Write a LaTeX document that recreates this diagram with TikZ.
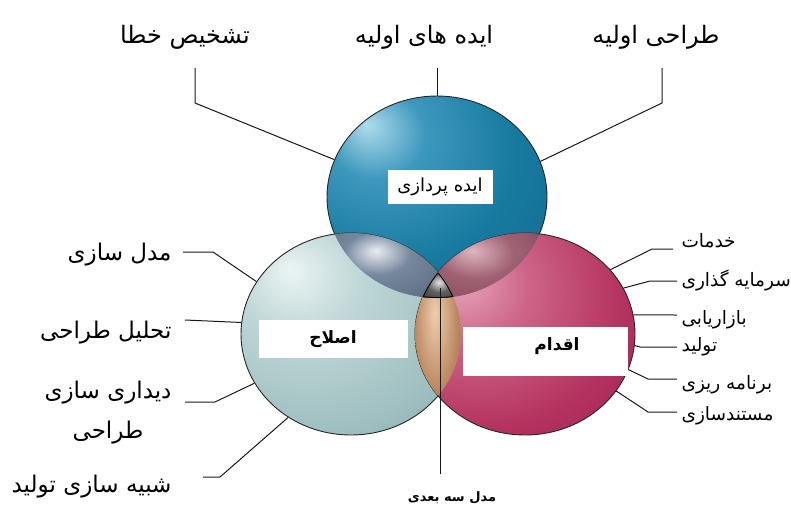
\documentclass[tikz,border=0pt]{standalone}
\usepackage{fontspec}
\usetikzlibrary{shapes.geometric}
\newfontfamily\fa[Script=Arabic]{DejaVu Sans}
\TeXXeTstate=1
\newcommand{\rtl}[1]{\beginR #1\endR}

% sphere colours
\definecolor{ideaHi}{RGB}{175,220,235}
\definecolor{ideaMid}{RGB}{62,152,190}
\definecolor{ideaC}{RGB}{24,122,160}
\definecolor{ideaDk}{RGB}{14,96,132}
\definecolor{fixHi}{RGB}{236,244,244}
\definecolor{fixMid}{RGB}{190,214,214}
\definecolor{fixC}{RGB}{158,190,191}
\definecolor{fixDk}{RGB}{105,145,150}
\definecolor{actHi}{RGB}{232,170,192}
\definecolor{actMid}{RGB}{205,100,135}
\definecolor{actC}{RGB}{180,50,95}
\definecolor{actDk}{RGB}{138,24,68}
% overlap colours
\definecolor{tlHi}{RGB}{235,238,242}
\definecolor{tlC}{RGB}{118,136,158}
\definecolor{tlDk}{RGB}{80,95,118}
\definecolor{trHi}{RGB}{222,182,192}
\definecolor{trC}{RGB}{160,98,115}
\definecolor{trDk}{RGB}{118,64,80}
\definecolor{btHi}{RGB}{240,205,175}
\definecolor{btC}{RGB}{185,135,95}
\definecolor{btDk}{RGB}{140,95,60}
\definecolor{coreHi}{RGB}{228,228,228}
\definecolor{coreC}{RGB}{95,95,95}
\definecolor{coreDk}{RGB}{40,40,40}

\pgfdeclareradialshading{ideaball}{\pgfpoint{-16bp}{18bp}}{color(0bp)=(ideaHi); color(11bp)=(ideaMid); color(28bp)=(ideaC); color(58bp)=(ideaDk); color(80bp)=(ideaDk)}
\pgfdeclareradialshading{fixball}{\pgfpoint{-14bp}{16bp}}{color(0bp)=(fixHi); color(14bp)=(fixMid); color(34bp)=(fixC); color(58bp)=(fixDk); color(80bp)=(fixDk)}
\pgfdeclareradialshading{actball}{\pgfpoint{-16bp}{14bp}}{color(0bp)=(actHi); color(14bp)=(actMid); color(32bp)=(actC); color(58bp)=(actDk); color(80bp)=(actDk)}
\pgfdeclareradialshading{lensTL}{\pgfpoint{-4bp}{10bp}}{color(0bp)=(tlHi); color(14bp)=(tlC); color(45bp)=(tlDk); color(80bp)=(tlDk)}
\pgfdeclareradialshading{lensTR}{\pgfpoint{-8bp}{10bp}}{color(0bp)=(trHi); color(16bp)=(trC); color(45bp)=(trDk); color(80bp)=(trDk)}
\pgfdeclareradialshading{lensBT}{\pgfpoint{-4bp}{12bp}}{color(0bp)=(btHi); color(20bp)=(btC); color(48bp)=(btDk); color(80bp)=(btDk)}
\pgfdeclareradialshading{coreball}{\pgfpoint{0bp}{4bp}}{color(0bp)=(coreHi); color(14bp)=(coreC); color(40bp)=(coreDk); color(80bp)=(coreDk)}

\begin{document}
\begin{tikzpicture}[x=1pt,y=-1pt,
    orb/.style={x radius=110pt,y radius=101pt},
    ball/.style={ellipse,minimum width=220,minimum height=202,inner sep=0pt,draw=black!85,line width=0.9pt},
    leader/.style={draw=black!90,line width=1pt},
    toplbl/.style={font=\fa\fontsize{24}{28}\selectfont},
    leftlbl/.style={font=\fa\fontsize{23}{40}\selectfont,anchor=east,align=center},
    rightlbl/.style={font=\fa\fontsize{18.5}{20}\selectfont,anchor=west},
    namebox/.style={fill=white,inner sep=0pt,font=\fa\fontsize{18}{20}\selectfont}]
  \useasboundingbox (0,0) rectangle (791,512);
  \fill[white] (0,0) rectangle (791,512);

  %--- three spheres ---
  \node[ball,shading=ideaball] (idea) at (437,197) {};
  \node[ball,shading=fixball] (fix) at (351,334) {};
  \node[ball,shading=actball] (act) at (525,334) {};

  %--- overlaps ---
  \begin{scope}
    \clip (idea.center) ellipse[orb];
    \clip (fix.center) ellipse[orb];
    \shade[shading=lensTL] (326,228) rectangle (444,304);
  \end{scope}
  \begin{scope}
    \clip (idea.center) ellipse[orb];
    \clip (act.center) ellipse[orb];
    \shade[shading=lensTR] (432,228) rectangle (550,304);
  \end{scope}
  \begin{scope}
    \clip (fix.center) ellipse[orb];
    \clip (act.center) ellipse[orb];
    \shade[shading=lensBT] (412,268) rectangle (466,440);
  \end{scope}
  \begin{scope}
    \clip (idea.center) ellipse[orb];
    \clip (fix.center) ellipse[orb];
    \clip (act.center) ellipse[orb];
    \shade[shading=coreball] (418,268) rectangle (460,302);
    \draw[line width=1.8pt] (idea.center) ellipse[orb] (fix.center) ellipse[orb] (act.center) ellipse[orb];
  \end{scope}

  %--- names in the spheres ---
  \node[namebox,minimum width=105,minimum height=34] (ideaBox) at (440,187) {\rtl{ایده پردازی}};
  \node[namebox,font=\fa\bfseries\fontsize{17}{19}\selectfont,minimum width=149,minimum height=38] (fixBox) at (333,339) {\rtl{اصلاح}};
  \node[namebox,font=\fa\bfseries\fontsize{17}{19}\selectfont,minimum width=165,minimum height=49,text depth=14pt] (actBox) at (545,351) {\hspace*{24pt}\rtl{اقدام}};

  %--- top labels ---
  \node[toplbl] (errLbl) at (185,37) {\rtl{تشخیص خطا}};
  \node[toplbl] (ideasLbl) at (424,37) {\rtl{ایده های اولیه}};
  \node[toplbl] (draftLbl) at (656,37) {\rtl{طراحی اولیه}};
  \coordinate (errEnd) at (195,68);
  \coordinate (ideasEnd) at (437,68);
  \coordinate (draftEnd) at (662,68);
  \draw[leader] (idea.160) -- (195,103) -- (errEnd);
  \draw[leader] (idea.north) -- (ideasEnd);
  \draw[leader] (idea.19) -- (662,103) -- (draftEnd);

  %--- left labels ---
  \node[leftlbl] (mdlLbl) at (175,255) {\rtl{مدل سازی}};
  \node[leftlbl] (anaLbl) at (175,333) {\rtl{تحلیل طراحی}};
  \node[leftlbl] (visLbl) at (175,413) {\rtl{دیداری سازی}\\\rtl{طراحی}};
  \node[leftlbl] (simLbl) at (175,487) {\rtl{شبیه سازی تولید}};
  \coordinate (mdlEnd) at (183,252);
  \coordinate (anaEnd) at (185,320);
  \coordinate (visEnd) at (185,402);
  \coordinate (simEnd) at (203,477);
  \draw[leader] (fix.151) -- (213,252) -- (mdlEnd);
  \draw[leader] (fix.174) -- (anaEnd);
  \draw[leader] (fix.207) -- (215,402) -- (visEnd);
  \draw[leader] (fix.233) -- (220,477) -- (simEnd);

  %--- right labels ---
  \node[rightlbl] (srvLbl) at (678,241) {\rtl{خدمات}};
  \node[rightlbl] (invLbl) at (678,280) {\rtl{سرمایه گذاری}};
  \node[rightlbl] (mktLbl) at (678,320) {\rtl{بازاریابی}};
  \node[rightlbl] (prdLbl) at (678,347) {\rtl{تولید}};
  \node[rightlbl] (plnLbl) at (678,385) {\rtl{برنامه ریزی}};
  \node[rightlbl] (docLbl) at (678,416) {\rtl{مستندسازی}};
  \coordinate (srvEnd) at (673,249);
  \coordinate (invEnd) at (677,281);
  \coordinate (mktEnd) at (677,315);
  \coordinate (prdEnd) at (677,347);
  \coordinate (plnEnd) at (677,379);
  \coordinate (docEnd) at (677,412);
  \draw[leader] (act.37) -- (652,249) -- (srvEnd);
  \draw[leader] (act.25) -- (650,281) -- (invEnd);
  \draw[leader] (act.10) -- (mktEnd);
  \draw[leader] (act.354) -- (640,347) -- (prdEnd);
  \draw[leader] (act.341) -- (648,379) -- (plnEnd);
  \draw[leader] (act.328) -- (648,412) -- (docEnd);

  %--- 3D model ---
  \node[font=\fa\bfseries\fontsize{13}{15}\selectfont] (modelLbl) at (452,498) {\rtl{مدل سه بعدی}};
  \coordinate (core) at (440,288);
  \coordinate (modelEnd) at (440,474);
  \draw[leader] (core) -- (modelEnd);
\end{tikzpicture}
\end{document}
